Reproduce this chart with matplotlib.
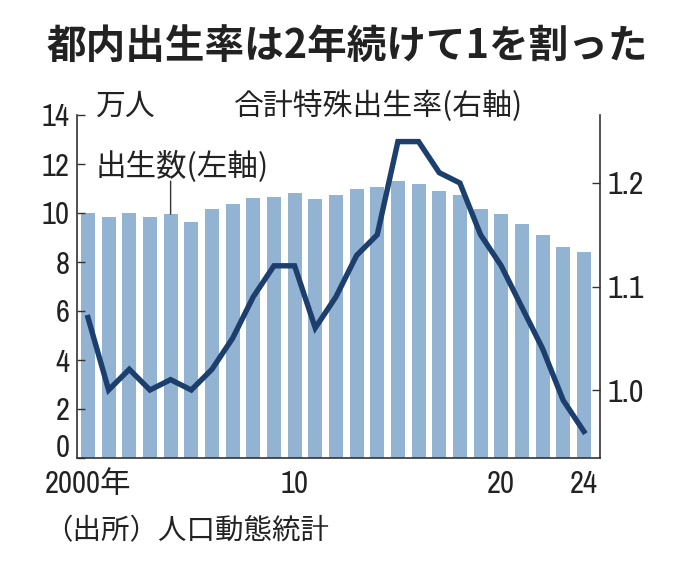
import matplotlib
matplotlib.use("Agg")
import matplotlib.pyplot as plt
from matplotlib.transforms import ScaledTranslation

years = list(range(2000, 2025))
births_man = [10.02, 9.84, 10.01, 9.85, 9.95, 9.65, 10.17, 10.38, 10.60, 10.66,
              10.81, 10.59, 10.74, 11.00, 11.06, 11.32, 11.20, 10.90, 10.72, 10.18,
              9.97, 9.54, 9.11, 8.63, 8.42]
tfr = [1.07, 1.00, 1.02, 1.00, 1.01, 1.00, 1.02, 1.05, 1.09, 1.12,
       1.12, 1.06, 1.09, 1.13, 1.15, 1.24, 1.24, 1.21, 1.20, 1.15,
       1.12, 1.08, 1.04, 0.99, 0.96]
left_ticks = [0, 2, 4, 6, 8, 10, 12, 14]
right_ticks = [1.0, 1.1, 1.2]
xtick_pos = [0, 10, 20, 24]
xtick_labels = ["2000年", "10", "20", "24"]

title = "都内出生率は2年続けて1を割った"
label_unit = "万人"
label_bar = "出生数(左軸)"
label_line = "合計特殊出生率(右軸)"
source = "（出所）人口動態統計"

JP = ["Noto Sans CJK JP", "DejaVu Sans"]
NUM = ["Archivo Narrow", "Noto Sans CJK JP"]

bar_color = "#93b3d3"
line_color = "#1c3f6e"
text_color = "#222222"
spine_color = "#333333"

fig = plt.figure(figsize=(6.82, 5.62), dpi=100)
W, H = 682, 562
ax = fig.add_axes([77 / W, 1 - 458 / H, (600 - 77) / W, (458 - 115) / H])
x = list(range(len(years)))
ax.bar(x, births_man, width=0.68, color=bar_color, zorder=1)
ax.set_xlim(-0.53, 24.78)
ax.set_ylim(0, 14)
ax.set_yticks(left_ticks)
ax.set_yticklabels([str(v) for v in left_ticks], family=NUM, fontsize=22, color=text_color)
ax.set_xticks(xtick_pos)
ax.set_xticklabels(xtick_labels, family=NUM, fontsize=22, color=text_color)
ax.tick_params(axis="x", length=0, pad=8.5)
ax.tick_params(axis="y", direction="in", length=6, width=1, pad=5.5, color=spine_color)
for s in ["top", "right"]:
    ax.spines[s].set_visible(False)
for s in ["left", "bottom"]:
    ax.spines[s].set_color(spine_color)
    ax.spines[s].set_linewidth(1.2)
# lift the "0" label slightly as in the reference
zero_lbl = ax.get_yticklabels()[0]
zero_lbl.set_transform(zero_lbl.get_transform() + ScaledTranslation(0, 9 / 72, fig.dpi_scale_trans))

ax2 = ax.twinx()
ax2.plot(x, tfr, color=line_color, lw=3.9, solid_joinstyle="miter", zorder=3)
ax2.set_ylim(0.9343, 1.2657)
ax2.set_yticks(right_ticks)
ax2.set_yticklabels([f"{v:.1f}" for v in right_ticks], family=NUM, fontsize=23, color=text_color)
ax2.tick_params(axis="y", direction="in", length=6, width=1, pad=5.5, color=spine_color)
for s in ["top", "left", "bottom"]:
    ax2.spines[s].set_visible(False)
ax2.spines["right"].set_color(spine_color)
ax2.spines["right"].set_linewidth(1.2)

fig.text(347 / W, 1 - 46 / H, title, family=JP, fontsize=28.5, fontweight="bold",
         ha="center", va="center", color=text_color)
fig.text(96 / W, 1 - 106 / H, label_unit, family=JP, fontsize=21.5, ha="left", va="center", color=text_color)
fig.text(234 / W, 1 - 106 / H, label_line, family=JP, fontsize=21.5, ha="left", va="center", color=text_color)
fig.text(96 / W, 1 - 166 / H, label_bar, family=JP, fontsize=22, ha="left", va="center", color=text_color)
ax.annotate("", xy=(4, births_man[4]), xytext=(4, 11.3),
            arrowprops=dict(arrowstyle="-", color=spine_color, lw=1.0, shrinkA=0, shrinkB=0))
fig.text(44 / W, 1 - 531 / H, source, family=JP, fontsize=20.5, ha="left", va="center", color=text_color)

fig.savefig("out.png", dpi=100)
